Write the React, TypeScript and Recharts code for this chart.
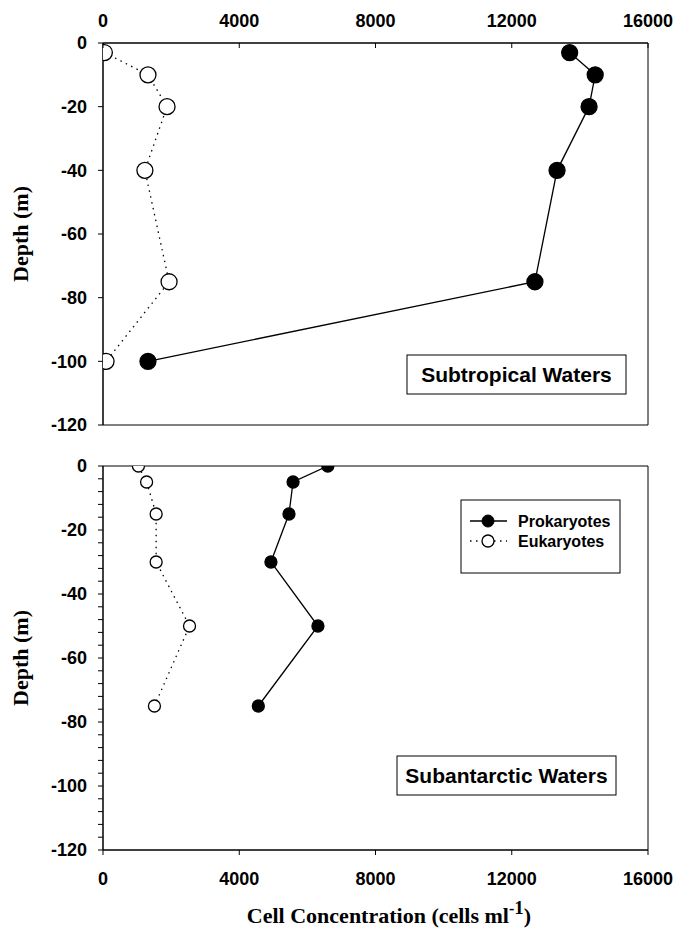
import React from 'react';
import { ScatterChart, Scatter, XAxis, YAxis, ReferenceArea } from 'recharts';

const concTicks = [0, 4000, 8000, 12000, 16000];
const depthTicksMajor = [0, -20, -40, -60, -80, -100, -120];
const depthTicksMinor = [0, -4, -8, -12, -16, -20, -24, -28, -32, -36, -40, -44, -48, -52, -56, -60, -64, -68, -72, -76, -80, -84, -88, -92, -96, -100, -104, -108, -112, -116, -120];

const seriesNames = ['Prokaryotes', 'Eukaryotes'];
const panelNames = ['Subtropical Waters', 'Subantarctic Waters'];

const subtropicalDepth = [-3, -10, -20, -40, -75, -100];
const subtropicalProk = [13700, 14450, 14270, 13330, 12680, 1320];
const subtropicalEuk = [40, 1320, 1880, 1230, 1940, 90];

const subantarcticDepth = [0, -5, -15, -30, -50, -75];
const subantarcticProk = [6600, 5580, 5460, 4930, 6310, 4560];
const subantarcticEuk = [1040, 1280, 1560, 1560, 2540, 1510];

const toPoints = (depths: number[], values: number[]) => depths.map((d, i) => ({ x: values[i], y: d }));

const SANS = '"Liberation Sans", Arial, Helvetica, sans-serif';
const SERIF = '"Liberation Serif", "Times New Roman", serif';

const TopTick = (p: any) => (
  <g>
    <line x1={p.x} x2={p.x} y1={p.y + 16} y2={p.y + 21} stroke="#000" strokeWidth={1} />
    <text x={p.x} y={p.y} textAnchor="middle" fontFamily={SANS} fontWeight={700} fontSize={18} fill="#000">
      {p.payload.value}
    </text>
  </g>
);

const BottomTick = (p: any) => (
  <text x={p.x} y={p.y + 13} textAnchor="middle" fontFamily={SANS} fontWeight={700} fontSize={18} fill="#000">
    {p.payload.value}
  </text>
);

const LeftTick = (p: any) =>
  depthTicksMajor.includes(p.payload.value) ? (
    <text x={p.x} y={p.y} dy="0.35em" textAnchor="end" fontFamily={SANS} fontWeight={700} fontSize={18} fill="#000">
      {p.payload.value}
    </text>
  ) : (
    <g />
  );

const makeDot = (r: number, filled: boolean) => (props: any) => (
  <circle cx={props.cx} cy={props.cy} r={r} fill={filled ? '#000' : '#fff'} stroke="#000" strokeWidth={1.3} />
);

type PanelProps = {
  top: number;
  height: number;
  margin: { top: number; right: number; bottom: number; left: number };
  xTop: boolean;
  yTicks: number[];
  r: number;
  prok: { x: number; y: number }[];
  euk: { x: number; y: number }[];
};

const Panel = ({ top, height, margin, xTop, yTicks, r, prok, euk }: PanelProps) => (
  <div style={{ position: 'absolute', left: 0, top, width: 679, height }}>
    <ScatterChart width={679} height={height} margin={margin}>
      {xTop ? (
        <XAxis
          type="number"
          dataKey="x"
          orientation="top"
          domain={[0, 16000]}
          ticks={concTicks}
          interval={0}
          height={30}
          tickSize={0}
          tickMargin={16}
          tickLine={false}
          axisLine={{ stroke: '#000' }}
          tick={TopTick}
          allowDataOverflow
        />
      ) : (
        <XAxis
          type="number"
          dataKey="x"
          orientation="bottom"
          domain={[0, 16000]}
          ticks={concTicks}
          interval={0}
          height={40}
          tickSize={5}
          tickMargin={17}
          tickLine={{ stroke: '#000' }}
          axisLine={{ stroke: '#000' }}
          tick={BottomTick}
          allowDataOverflow
        />
      )}
      <YAxis
        type="number"
        dataKey="y"
        domain={[-120, 0]}
        ticks={yTicks}
        interval={0}
        width={80}
        tickSize={5}
        tickMargin={11}
        tickLine={{ stroke: '#000' }}
        axisLine={{ stroke: '#000' }}
        tick={LeftTick}
        allowDataOverflow
      />
      <ReferenceArea x1={0} x2={16000} y1={-120} y2={0} fill="none" stroke="#000" strokeWidth={1} />
      <Scatter
        name={seriesNames[1]}
        data={euk}
        line={{ stroke: '#000', strokeWidth: 1.3, strokeDasharray: '1.5 4.5' }}
        lineType="joint"
        shape={makeDot(r, false)}
        isAnimationActive={false}
      />
      <Scatter
        name={seriesNames[0]}
        data={prok}
        line={{ stroke: '#000', strokeWidth: 1.3 }}
        lineType="joint"
        shape={makeDot(r, true)}
        isAnimationActive={false}
      />
    </ScatterChart>
  </div>
);

export default function App() {
  return (
    <div style={{ position: 'absolute', left: 0, top: 0, width: 679, height: 939, background: '#fff' }}>
      <Panel
        top={0}
        height={440}
        margin={{ top: 13, right: 31, bottom: 15, left: 23 }}
        xTop={true}
        yTicks={depthTicksMajor}
        r={8}
        prok={toPoints(subtropicalDepth, subtropicalProk)}
        euk={toPoints(subtropicalDepth, subtropicalEuk)}
      />
      <Panel
        top={440}
        height={499}
        margin={{ top: 26, right: 31, bottom: 49, left: 23 }}
        xTop={false}
        yTicks={depthTicksMinor}
        r={6}
        prok={toPoints(subantarcticDepth, subantarcticProk)}
        euk={toPoints(subantarcticDepth, subantarcticEuk)}
      />
      <svg width={679} height={939} style={{ position: 'absolute', left: 0, top: 0, pointerEvents: 'none' }}>
        <text
          transform="translate(28,234) rotate(-90)"
          textAnchor="middle"
          fontFamily={SERIF}
          fontWeight={700}
          fontSize={22}
          fill="#000"
        >
          Depth (m)
        </text>
        <text
          transform="translate(28,658) rotate(-90)"
          textAnchor="middle"
          fontFamily={SERIF}
          fontWeight={700}
          fontSize={22}
          fill="#000"
        >
          Depth (m)
        </text>
        <text x={389} y={923} textAnchor="middle" fontFamily={SERIF} fontWeight={700} fontSize={22} fill="#000">
          Cell Concentration (cells ml
          <tspan dy={-9} fontSize={16}>-</tspan>
          <tspan fontSize={19}>1</tspan>
          <tspan dy={9}>)</tspan>
        </text>

        <rect x={407} y={355} width={219} height={39} fill="#fff" stroke="#000" strokeWidth={1} />
        <text x={516.5} y={382} textAnchor="middle" fontFamily={SANS} fontWeight={700} fontSize={21} fill="#000">
          {panelNames[0]}
        </text>
        <rect x={397} y={756} width={219} height={39} fill="#fff" stroke="#000" strokeWidth={1} />
        <text x={506.5} y={783} textAnchor="middle" fontFamily={SANS} fontWeight={700} fontSize={21} fill="#000">
          {panelNames[1]}
        </text>

        <rect x={461} y={500} width={159} height={73} fill="#fff" stroke="#000" strokeWidth={1} />
        <line x1={470} x2={507} y1={521} y2={521} stroke="#000" strokeWidth={1.3} />
        <circle cx={488} cy={521} r={6} fill="#000" stroke="#000" />
        <text x={518} y={527} fontFamily={SANS} fontWeight={700} fontSize={16} fill="#000">
          {seriesNames[0]}
        </text>
        <line x1={470} x2={507} y1={541} y2={541} stroke="#000" strokeWidth={1.3} strokeDasharray="1.5 4.5" />
        <circle cx={488} cy={541} r={6} fill="#fff" stroke="#000" strokeWidth={1.3} />
        <text x={518} y={547} fontFamily={SANS} fontWeight={700} fontSize={16} fill="#000">
          {seriesNames[1]}
        </text>
      </svg>
    </div>
  );
}
